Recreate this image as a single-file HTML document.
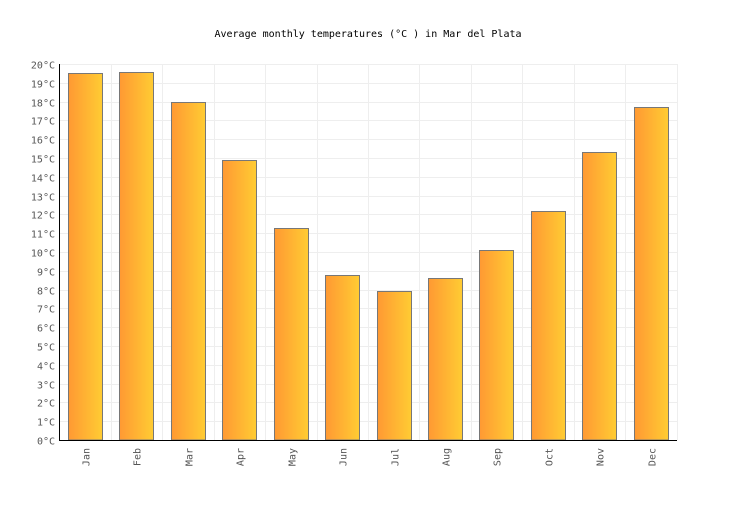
<!DOCTYPE html>
<html><head><style>body{margin:0;background:#fff}</style></head><body>
<svg width="736" height="500" xmlns="http://www.w3.org/2000/svg" font-family="'DejaVu Sans Mono','Liberation Mono',monospace">
<defs><linearGradient id="g" x1="0" x2="1" y1="0" y2="0"><stop offset="0" stop-color="#ff9933"/><stop offset="1" stop-color="#ffcc33"/></linearGradient></defs>
<text x="368" y="37" font-size="10" text-anchor="middle" fill="#000">Average monthly temperatures (°C ) in Mar del Plata</text>
<g id="grid" stroke="#eeeeee" stroke-width="1"></g>
<g id="bars"></g>
<g id="lab" font-size="10" fill="#555"></g>
<line x1="59.5" y1="64" x2="59.5" y2="440.5" stroke="#000"/>
<line x1="59" y1="440.5" x2="677" y2="440.5" stroke="#000"/>
<script>
var ns="http://www.w3.org/2000/svg",gr=document.getElementById('grid'),b=document.getElementById('bars'),l=document.getElementById('lab');
function e(p,t,a,txt){var n=document.createElementNS(ns,t);for(var k in a)n.setAttribute(k,a[k]);if(txt)n.textContent=txt;p.appendChild(n);}
var S=18.8;
for(var i=0;i<=20;i++){var y=Math.round(440-i*S)+0.5;e(gr,'line',{x1:60,x2:677,y1:y,y2:y});e(l,'text',{x:55,y:y+4,'text-anchor':'end'},i+'°C');}
for(var k=1;k<=12;k++){var x=Math.round(59.5+51.42*k)+0.5;e(gr,'line',{x1:x,x2:x,y1:64,y2:440});}
var v=[19.5,19.6,18,14.9,11.3,8.8,7.9,8.6,10.1,12.2,15.3,17.7],m=['Jan','Feb','Mar','Apr','May','Jun','Jul','Aug','Sep','Oct','Nov','Dec'];
for(var i=0;i<12;i++){var x=Math.round(59+51.42*i+9)+0.5,y=Math.round(440-v[i]*S)+0.5;
e(b,'rect',{x:x,y:y,width:34,height:440-y,fill:'url(#g)',stroke:'#777','stroke-width':1});
var cx=x+17+4;e(l,'text',{x:cx,y:448,transform:'rotate(-90 '+cx+' 448)','text-anchor':'end'},m[i]);}
</script>
</svg>
</body></html>
